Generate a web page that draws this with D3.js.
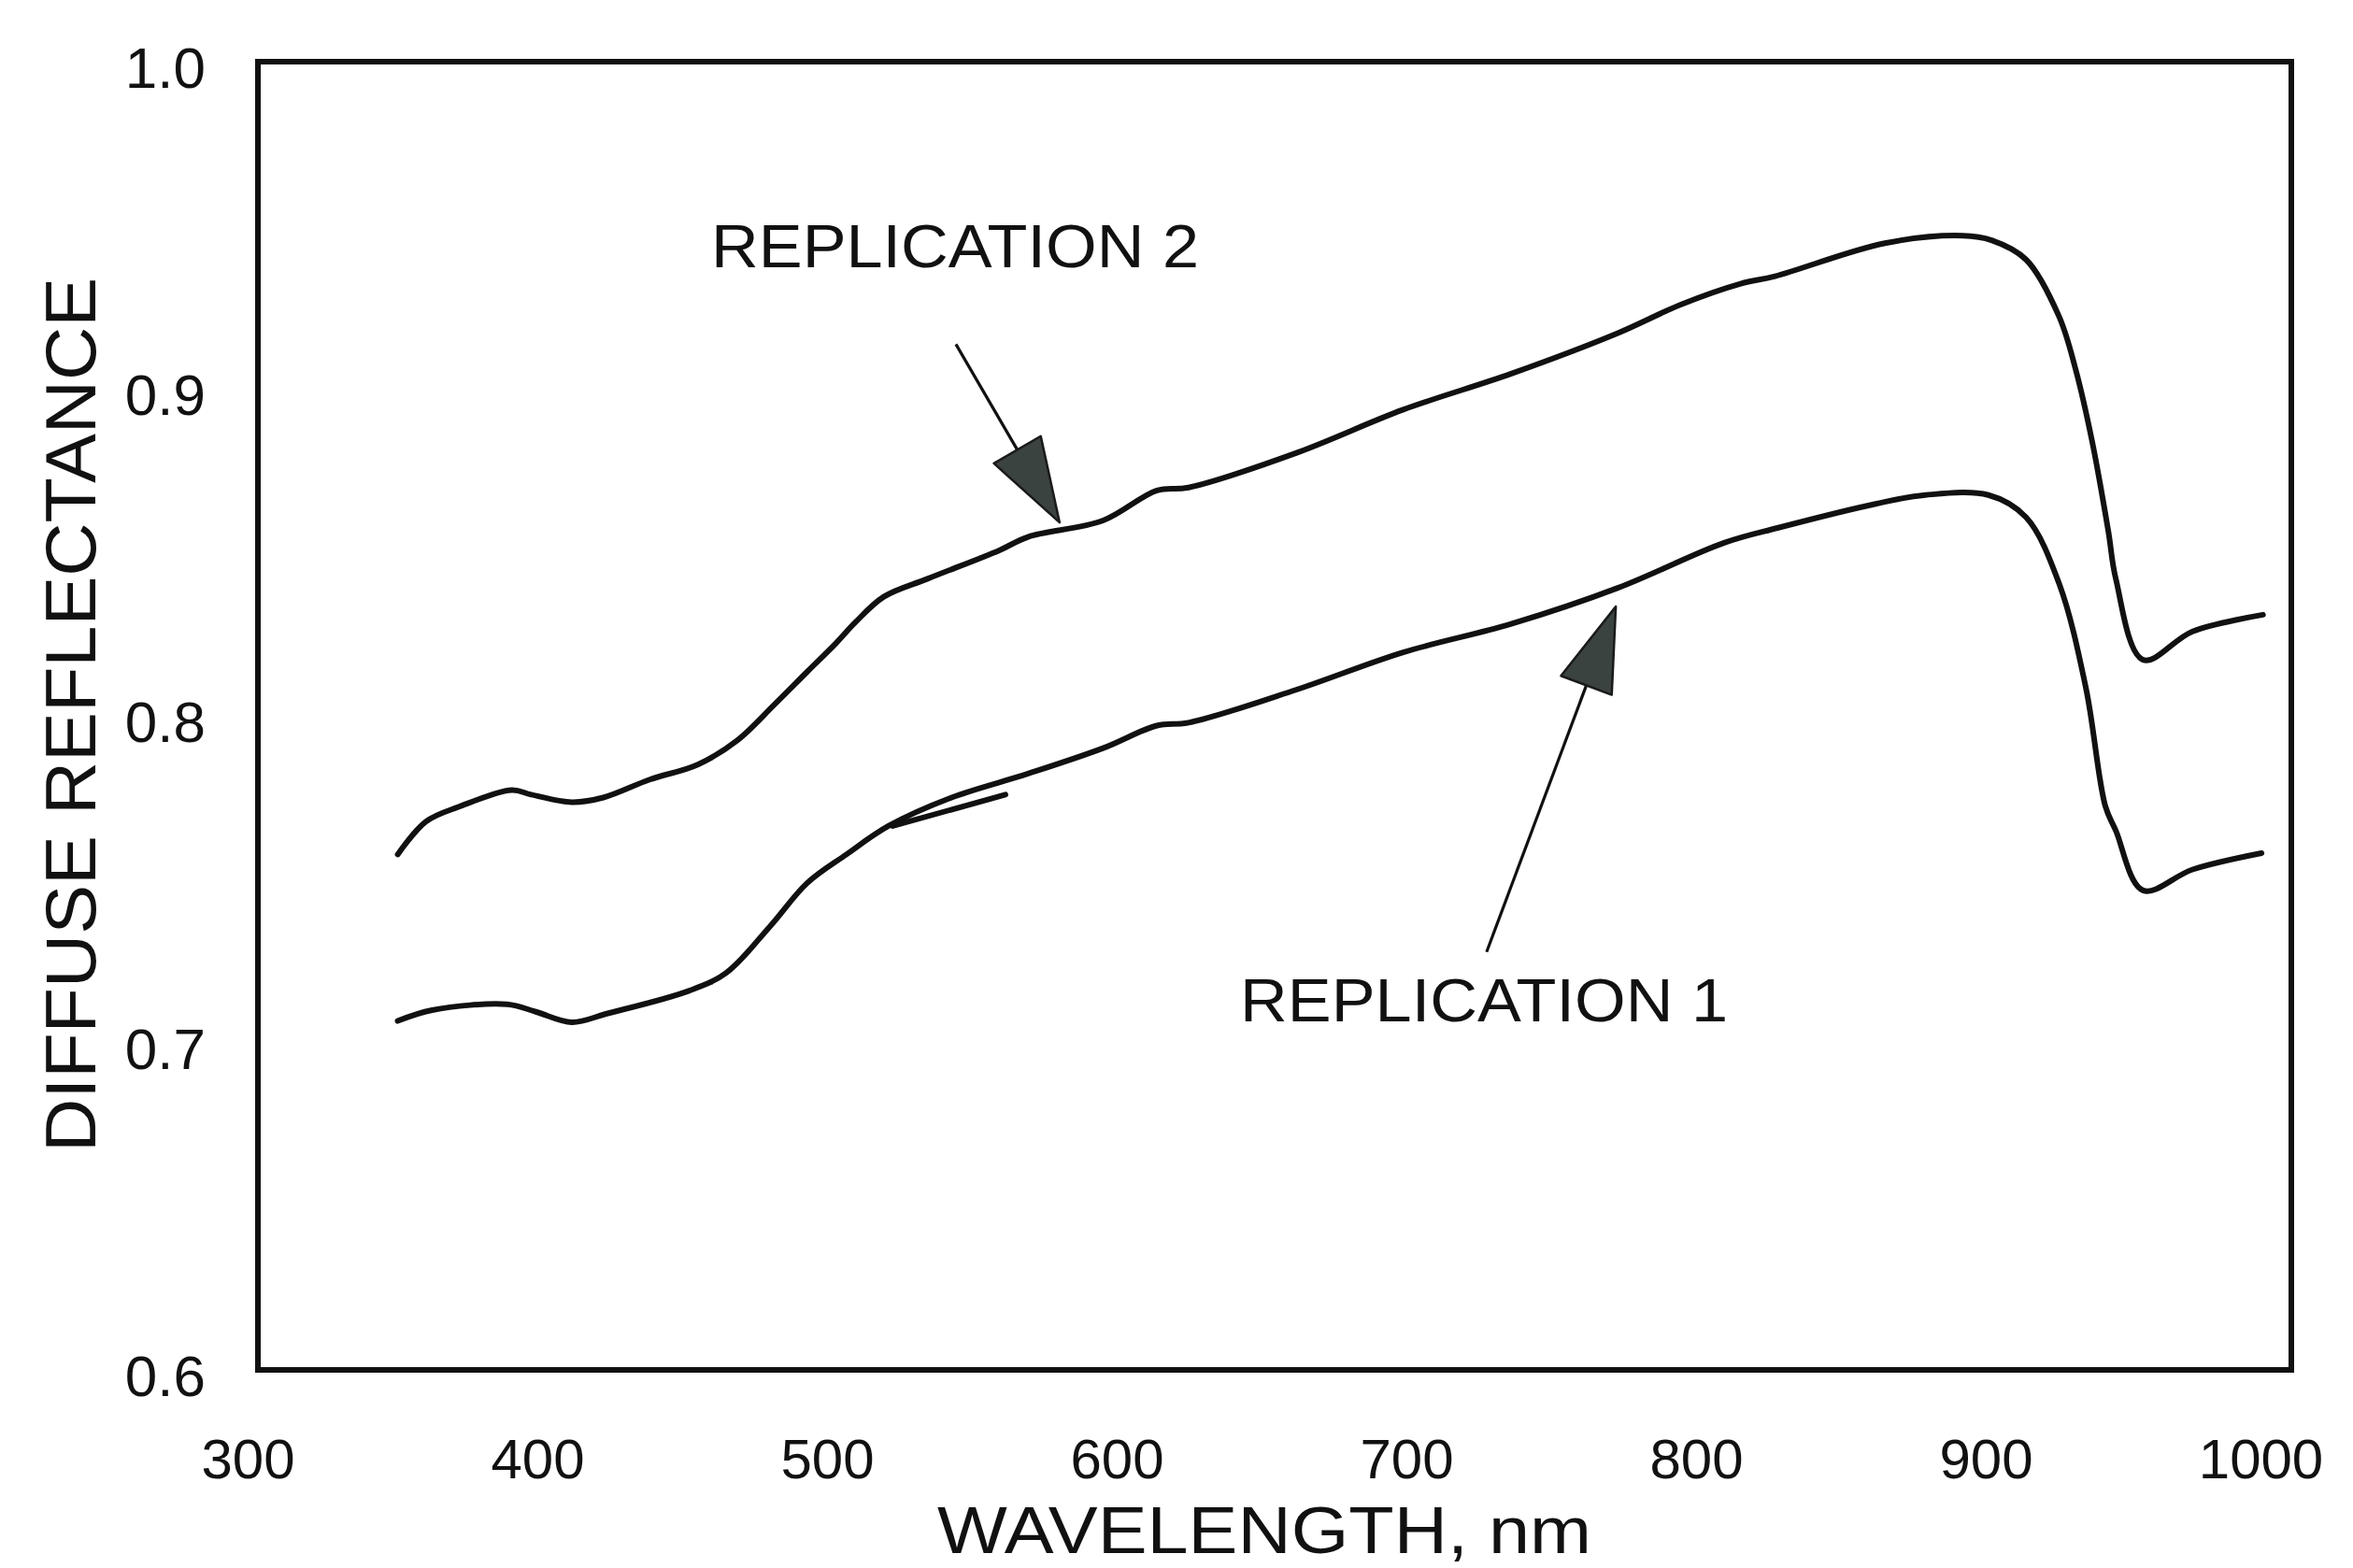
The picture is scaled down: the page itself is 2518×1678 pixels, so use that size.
<!DOCTYPE html>
<html>
<head>
<meta charset="utf-8">
<script src="https://d3js.org/d3.v7.min.js"></script>
<style>
body { margin: 0; background: #fff; }
text { font-family: "Liberation Sans", Arial, sans-serif; fill: #111; }
.curve { fill: none; stroke: #111; stroke-width: 6; stroke-linejoin: round; stroke-linecap: round; }
</style>
</head>
<body>
<svg id="chart" width="2518" height="1678"></svg>
<script>
// values
const wl2 = [351.8, 361.6, 373.0, 391.2, 397.9, 411.9, 422.8, 438.8, 455.4, 468.9, 481.8, 493.2, 503.1, 509.8,
             519.6, 534.7, 559.5, 569.4, 595.3, 613.9, 624.8, 662.1, 698.9, 736.2, 773.0, 794.7, 815.4, 827.3,
             865.2, 892.1, 902.0, 913.9, 925.3, 931.0, 936.7, 942.3, 944.9, 954.3, 971.4, 995.7];
const refl2 = [0.7576, 0.7677, 0.7722, 0.7773, 0.7759, 0.7736, 0.7750, 0.7805, 0.7851, 0.7924, 0.8034, 0.8135, 0.8222, 0.8286,
               0.8364, 0.8419, 0.8506, 0.8547, 0.8597, 0.8689, 0.8698, 0.8804, 0.8936, 0.9046, 0.9170, 0.9257, 0.9321, 0.9344,
               0.9445, 0.9468, 0.9454, 0.9395, 0.9221, 0.9060, 0.8840, 0.8565, 0.8419, 0.8171, 0.8258, 0.8309];

const wl1 = [351.8, 363.7, 389.6, 399.5, 411.9, 424.3, 452.3, 465.2, 480.3, 493.2, 506.7, 521.2, 543.0, 569.4,
             595.3, 613.9, 624.8, 662.1, 698.9, 736.2, 773.0, 809.7, 828.4, 862.0, 879.2, 900.9, 913.9, 925.3,
             934.6, 941.3, 944.9, 954.3, 971.4, 995.2];
const refl1 = [0.7067, 0.7100, 0.7118, 0.7095, 0.7063, 0.7090, 0.7159, 0.7214, 0.7356, 0.7489, 0.7576, 0.7663, 0.7750, 0.7823,
               0.7901, 0.7970, 0.7979, 0.8080, 0.8194, 0.8281, 0.8391, 0.8529, 0.8575, 0.8648, 0.8675, 0.8675, 0.8607, 0.8405,
               0.8084, 0.7723, 0.7649, 0.7466, 0.7530, 0.7580];

// short stray pen stroke beside replication 1
const strayWl = [522.7, 561.6];
const strayRefl = [0.7663, 0.7759];

const xTicks = [300, 400, 500, 600, 700, 800, 900, 1000];
const yTicks = [0.6, 0.7, 0.8, 0.9, 1.0];

const labels = ["REPLICATION 2", "REPLICATION 1"];
const labelWl = [460, 642.6];
const labelRefl = [0.9372, 0.7067];
const arrowFromWl = [544.5, 727.7];
const arrowFromRefl = [0.9136, 0.7278];
const arrowToWl = [580.3, 772.3];
const arrowToRefl = [0.8591, 0.8334];

const svg = d3.select("#chart");
const frameLeft = 276, frameRight = 2452;

const x = d3.scaleLinear().domain([300, 1000]).range([265, 2435]);
const y = d3.scaleLinear().domain([0.6, 1.0]).range([1466, 66]);

// frame
svg.append("rect")
  .attr("x", frameLeft)
  .attr("y", y(1.0))
  .attr("width", frameRight - frameLeft)
  .attr("height", y(0.6) - y(1.0))
  .attr("fill", "none")
  .attr("stroke", "#111")
  .attr("stroke-width", 6);

// y axis
const yAxis = svg.append("g")
  .attr("transform", "translate(" + frameLeft + ",0)")
  .call(d3.axisLeft(y).tickValues(yTicks).tickSize(0).tickPadding(56).tickFormat(d3.format(".1f")));
yAxis.select(".domain").remove();
yAxis.selectAll("text")
  .attr("font-size", 62)
  .attr("font-family", "Liberation Sans, Arial, sans-serif")
  .attr("fill", "#111")
  .attr("dy", "0.45em");

// x axis
const xAxis = svg.append("g")
  .attr("transform", "translate(0," + y(0.6) + ")")
  .call(d3.axisBottom(x).tickValues(xTicks).tickSize(0).tickPadding(73).tickFormat(d3.format("d")));
xAxis.select(".domain").remove();
xAxis.selectAll("text")
  .attr("font-size", 60)
  .attr("font-family", "Liberation Sans, Arial, sans-serif")
  .attr("fill", "#111")
  .attr("dx", d => d === 1000 ? -16 : 0);

// axis titles
svg.append("text")
  .attr("x", 1353)
  .attr("y", 1662)
  .attr("text-anchor", "middle")
  .attr("font-size", 70)
  .attr("textLength", 700)
  .attr("lengthAdjust", "spacingAndGlyphs")
  .text("WAVELENGTH, nm");

svg.append("text")
  .attr("transform", "translate(102,765) rotate(-90)")
  .attr("text-anchor", "middle")
  .attr("font-size", 76)
  .attr("textLength", 936)
  .attr("lengthAdjust", "spacingAndGlyphs")
  .text("DIFFUSE  REFLECTANCE");

// curves
const line = d3.line()
  .x(d => x(d[0]))
  .y(d => y(d[1]))
  .curve(d3.curveCatmullRom.alpha(0.5));

const series = [d3.zip(wl2, refl2), d3.zip(wl1, refl1)];
svg.selectAll("path.curve")
  .data(series)
  .enter()
  .append("path")
  .attr("class", "curve")
  .attr("d", line);

svg.append("path")
  .attr("class", "curve")
  .attr("stroke-width", 4)
  .attr("d", d3.line().x(d => x(d[0])).y(d => y(d[1]))(d3.zip(strayWl, strayRefl)));

// arrows
const headLen = 90, headHalf = 29;
labels.forEach(function(lab, i) {
  const x0 = x(arrowFromWl[i]), y0 = y(arrowFromRefl[i]);
  const x1 = x(arrowToWl[i]), y1 = y(arrowToRefl[i]);
  const ang = Math.atan2(y1 - y0, x1 - x0);
  const bx = x1 - headLen * Math.cos(ang), by = y1 - headLen * Math.sin(ang);
  const px = -Math.sin(ang) * headHalf, py = Math.cos(ang) * headHalf;

  svg.append("line")
    .attr("x1", x0).attr("y1", y0)
    .attr("x2", bx).attr("y2", by)
    .attr("stroke", "#111")
    .attr("stroke-width", 3.2);

  svg.append("polygon")
    .attr("points", [[x1, y1], [bx + px, by + py], [bx - px, by - py]].map(p => p.join(",")).join(" "))
    .attr("fill", "#3b4340")
    .attr("stroke", "#1a1a1a")
    .attr("stroke-width", 2.5)
    .attr("stroke-linejoin", "round");

  svg.append("text")
    .attr("x", x(labelWl[i]))
    .attr("y", y(labelRefl[i]))
    .attr("font-size", 64)
    .attr("textLength", 522)
    .attr("lengthAdjust", "spacingAndGlyphs")
    .text(lab);
});
</script>
</body>
</html>
